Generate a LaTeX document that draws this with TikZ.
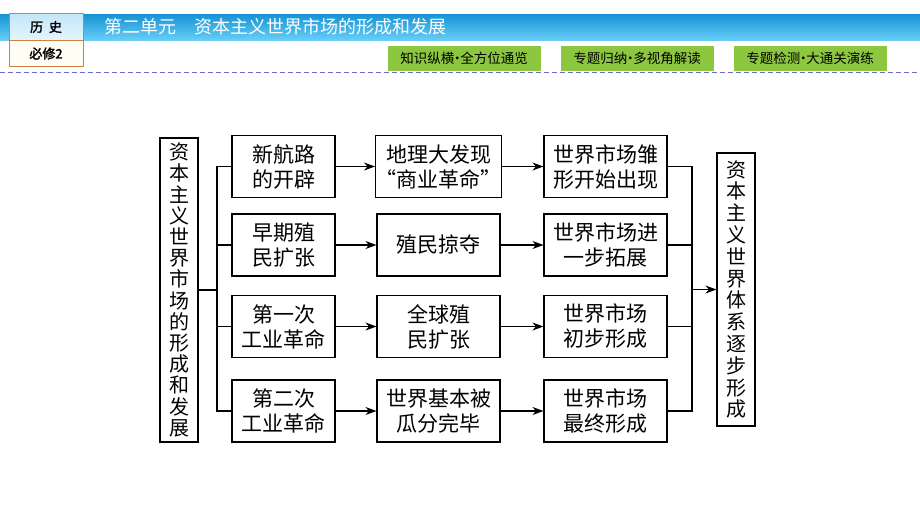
\documentclass[tikz,border=0pt]{standalone}
\usepackage{fontspec}
\setmainfont{Noto Sans CJK SC}[AutoFakeBold=2]
\usetikzlibrary{arrows.meta}
\usetikzlibrary{calc}

\newcommand{\middot}{\makebox[6pt]{·}}

\begin{document}
\begin{tikzpicture}[x=1pt,y=-1pt,
    box/.style={draw=black,line width=1.1pt,fill=white,align=center,inner sep=0pt,
      minimum height=62pt,font=\fontsize{21}{25}\selectfont},
    tallbox/.style={draw=black,line width=1.1pt,fill=white,align=center,inner sep=0pt,
      minimum width=38pt},
    tab/.style={draw=tabedge,line width=1pt,minimum width=74pt,minimum height=26.5pt,
      inner sep=0pt,font=\bfseries\fontsize{13}{13}\selectfont},
    navbtn/.style={fill=btngreen,minimum width=153pt,minimum height=25pt,inner sep=0pt,
      font=\fontsize{13.5}{13.5}\selectfont}]

\definecolor{barblue1}{RGB}{22,146,212}
\definecolor{barblue2}{RGB}{104,206,246}
\definecolor{tabedge}{RGB}{205,128,64}
\definecolor{tabblue1}{RGB}{196,230,247}
\definecolor{tabblue2}{RGB}{228,245,253}
\definecolor{tabcream}{RGB}{255,253,244}
\definecolor{btngreen}{RGB}{141,198,63}
\definecolor{dashblue}{RGB}{110,110,205}

\useasboundingbox (0,0) rectangle (920,517);

% header
\shade[top color=barblue1,bottom color=barblue2] (0,14) rectangle (920,40);
\draw[dashed,dash pattern=on 5pt off 3pt,dashblue,line width=1pt] (0,72) -- (920,72);
\node[tab,top color=tabblue1,bottom color=tabblue2] (hs) at (46,27) {历\ \ 史};
\node[tab,fill=tabcream] (bx) at (46,53.5) {必修2};
\node[anchor=west,text=white,font=\fontsize{18}{18}\selectfont] (title) at (101,27) {第二单元\hspace{18pt}资本主义世界市场的形成和发展};

\node[navbtn] (nav1) at (464,58.5) {知识纵横\middot 全方位通览};
\node[navbtn] (nav2) at (637,58.5) {专题归纳\middot 多视角解读};
\node[navbtn] (nav3) at (810,58.5) {专题检测\middot 大通关演练};

% left and right
\node[tallbox,minimum height=304pt,font=\fontsize{20}{21.2}\selectfont] (l) at (179,290) {资\\本\\主\\义\\世\\界\\市\\场\\的\\形\\成\\和\\发\\展};
\node[tallbox,minimum height=273pt,font=\fontsize{20}{21.8}\selectfont] (r) at (736,289.5) {资\\本\\主\\义\\世\\界\\体\\系\\逐\\步\\形\\成};

% column 1
\node[box,minimum width=103pt] (a1) at (283.5,166.5) {新航路\\的开辟};
\node[box,minimum width=103pt] (a2) at (283.5,245) {早期殖\\民扩张};
\node[box,minimum width=103pt] (a3) at (283.5,326.5) {第一次\\工业革命};
\node[box,minimum width=103pt] (a4) at (283.5,411) {第二次\\工业革命};

% column 2
\node[box,minimum width=123pt] (b1) at (438.5,166.5) {地理大发现\\“商业革命”};
\node[box,minimum width=123pt] (b2) at (438.5,245) {殖民掠夺};
\node[box,minimum width=123pt] (b3) at (438.5,326.5) {全球殖\\民扩张};
\node[box,minimum width=123pt] (b4) at (438.5,411) {世界基本被\\瓜分完毕};

% column 3
\node[box,minimum width=123pt] (c1) at (605.5,166.5) {世界市场雏\\形开始出现};
\node[box,minimum width=123pt] (c2) at (605.5,245) {世界市场进\\一步拓展};
\node[box,minimum width=123pt] (c3) at (605.5,326.5) {世界市场\\初步形成};
\node[box,minimum width=123pt] (c4) at (605.5,411) {世界市场\\最终形成};

\coordinate (lbus) at (217,290);
\coordinate (rbus) at (692,289.5);

\draw[line width=1.1pt] (l.east) -- (lbus);
\draw[line width=1.1pt] (a1.west) -| (lbus);
\draw[line width=1.1pt] (a2.west) -| (lbus);
\draw[line width=1.1pt] (a3.west) -| (lbus);
\draw[line width=1.1pt] (a4.west) -| (lbus);

\draw[->,line width=1.1pt,>={Stealth[length=11pt,width=8pt]}] (a1) -- (b1);
\draw[->,line width=1.1pt,>={Stealth[length=11pt,width=8pt]}] (a2) -- (b2);
\draw[->,line width=1.1pt,>={Stealth[length=11pt,width=8pt]}] (a3) -- (b3);
\draw[->,line width=1.1pt,>={Stealth[length=11pt,width=8pt]}] (a4) -- (b4);

\draw[->,line width=1.1pt,>={Stealth[length=11pt,width=8pt]}] (b1) -- (c1);
\draw[->,line width=1.1pt,>={Stealth[length=11pt,width=8pt]}] (b2) -- (c2);
\draw[->,line width=1.1pt,>={Stealth[length=11pt,width=8pt]}] (b3) -- (c3);
\draw[->,line width=1.1pt,>={Stealth[length=11pt,width=8pt]}] (b4) -- (c4);

\draw[line width=1.1pt] (c1.east) -| (rbus);
\draw[line width=1.1pt] (c2.east) -| (rbus);
\draw[line width=1.1pt] (c3.east) -| (rbus);
\draw[line width=1.1pt] (c4.east) -| (rbus);
\draw[->,line width=1.1pt,>={Stealth[length=11pt,width=8pt]}] (rbus) -- (r.west);

\end{tikzpicture}
\end{document}
